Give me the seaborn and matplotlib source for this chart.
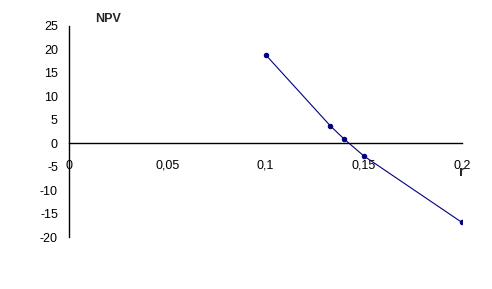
import matplotlib
matplotlib.use("Agg")
import matplotlib.pyplot as plt
import seaborn as sns
import pandas as pd

r_values = [0.1, 0.133, 0.14, 0.15, 0.2]
npv_values = [18.9, 3.7, 0.9, -2.7, -16.9]
x_ticks = [0, 0.05, 0.1, 0.15, 0.2]
x_tick_labels = ["0", "0,05", "0,1", "0,15", "0,2"]
y_ticks = [-20, -15, -10, -5, 0, 5, 10, 15, 20, 25]

sns.set_style("white")
plt.rcParams['font.family'] = ['Liberation Sans', 'DejaVu Sans']

df = pd.DataFrame({"r": r_values, "NPV": npv_values})

fig = plt.figure(figsize=(4.92, 2.89), dpi=100)
ax = fig.add_axes([69/492, (289-237)/289, (462-69)/492, (237-26)/289])

sns.lineplot(data=df, x="r", y="NPV", ax=ax, color="#000080", linewidth=0.8,
             marker="o", markersize=3.2, markeredgecolor="#000080", markerfacecolor="#000080")

ax.set_xlim(0, 0.2)
ax.set_ylim(-20, 25)
ax.spines['top'].set_visible(False)
ax.spines['right'].set_visible(False)
ax.spines['bottom'].set_position(('data', 0))
ax.spines['left'].set_position(('data', 0))
for s in ['left', 'bottom']:
    ax.spines[s].set_color('black')
    ax.spines[s].set_linewidth(1.0)

ax.set_xticks(x_ticks)
ax.set_xticklabels(x_tick_labels)
ax.set_yticks(y_ticks)
ax.set_yticklabels([str(v) for v in y_ticks])
ax.tick_params(axis='x', direction='out', length=5, width=1, pad=7, labelsize=9, colors='black')
ax.tick_params(axis='y', direction='out', length=4, width=1, pad=4, labelsize=9, colors='black')
ax.set_xlabel("")
ax.set_ylabel("")

fig.text(108/492, 1 - 19/289, "NPV", fontsize=9, fontweight='bold', ha='center', va='center')
fig.text(462/492, 1 - 172/289, "r", fontsize=10, fontweight='bold', ha='center', va='center')

fig.savefig("out.png", dpi=100)
